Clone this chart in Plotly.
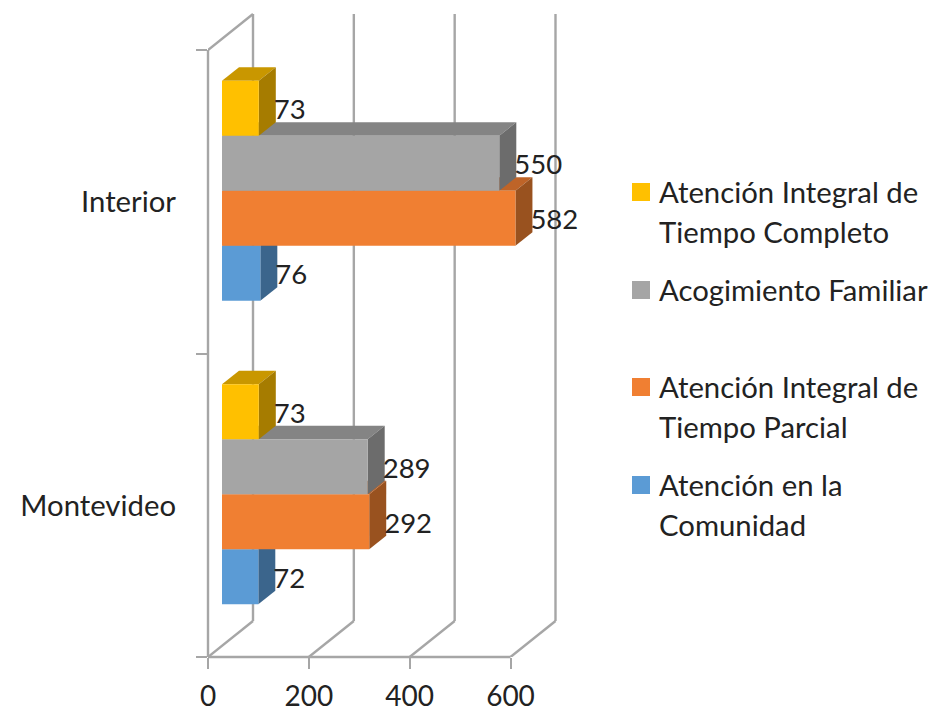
import plotly.graph_objects as go

categories = ["Montevideo", "Interior"]
x_ticks = [0, 200, 400, 600]
comunidad = [72, 76]
parcial = [292, 582]
familiar = [289, 550]
completo = [73, 73]

series = [
    ("Atención en la|Comunidad", comunidad, "#5B9BD5", "#497CAA", "#3B658C"),
    ("Atención Integral de|Tiempo Parcial", parcial, "#F07F32", "#BE6428", "#99521F"),
    ("Acogimiento Familiar", familiar, "#A5A5A5", "#848484", "#6C6C6C"),
    ("Atención Integral de|Tiempo Completo", completo, "#FFC000", "#C99700", "#A67C00"),
]
legend_rows_px = [485, 387, 290, 192]

FONT = "Lato, Carlito, Calibri, sans-serif"
DIGITS = 27.5
WORDS = 29.3
TICKS = 28
INK = "#222222"
AXIS = "#A6A6A6"
LINE = 2.4
PX_X = 302.5 / 600
PX_Y = 303.5
L, R, T, B = 208, 936 - 561, 10, 55
PW, PH = 936 - L - R, 712 - T - B
X_MAX = PW / PX_X
Y_MIN, Y_MAX = -0.5, -0.5 + PH / PX_Y
WALL_X, WALL_Y = 45 / PX_X, 36 / PX_Y
BASE = 14 / PX_X
BAR_H = 55 / PX_Y
LIFT = 11 / PX_Y
DX, DY = 17 / PX_X, 13.5 / PX_Y
LABEL_DX, LABEL_DY = 15 / PX_X, 4 / PX_Y


def poly(pts, color):
    path = "M " + " L ".join(f"{a},{b}" for a, b in pts) + " Z"
    return dict(type="path", path=path, xref="x", yref="y", fillcolor=color,
                line=dict(width=0), layer="below")


def seg(x0, y0, x1, y1, xref="x", yref="y"):
    return dict(type="line", x0=x0, y0=y0, x1=x1, y1=y1, xref=xref, yref=yref,
                line=dict(color=AXIS, width=LINE), layer="below")


def px_x(p):
    return (p - L) / PW


def px_y(p):
    return 1 - (p - T) / PH


shapes = []
annotations = []
for t in x_ticks:
    shapes.append(seg(t, Y_MIN, t + WALL_X, Y_MIN + WALL_Y))
    shapes.append(seg(t + WALL_X, Y_MIN + WALL_Y, t + WALL_X, 1.5 + WALL_Y))
shapes.append(seg(0, 1.5, WALL_X, 1.5 + WALL_Y))
shapes.append(seg(0, 0, x_ticks[-1], 0, yref="paper"))
shapes.append(seg(0, Y_MIN, 0, 1.5, xref="paper"))

fig = go.Figure()
for i, (name, vals, front, top, side) in enumerate(series):
    ys = [c + (i - 1.5) * BAR_H + LIFT for c in range(len(categories))]
    fig.add_trace(go.Bar(
        y=ys, x=vals, base=BASE, width=BAR_H, orientation="h", name=name.replace("|", " "),
        marker=dict(color=front, line=dict(width=0)), hoverinfo="x",
    ))
    for y, v in zip(ys, vals):
        x0, x1 = BASE, BASE + v
        y0, y1 = y - BAR_H / 2, y + BAR_H / 2
        shapes.append(poly([(x0, y1), (x0 + DX, y1 + DY), (x1 + DX, y1 + DY), (x1, y1)], top))
        shapes.append(poly([(x1, y0), (x1 + DX, y0 + DY), (x1 + DX, y1 + DY), (x1, y1)], side))
    fig.add_trace(go.Scatter(
        y=[y - LABEL_DY for y in ys], x=[BASE + v + LABEL_DX for v in vals], mode="text",
        text=[str(v) for v in vals], textposition="middle right",
        textfont=dict(family=FONT, size=DIGITS, color=INK),
        hoverinfo="skip", cliponaxis=False,
    ))
    row = legend_rows_px[i]
    shapes.append(dict(type="rect", xref="paper", yref="paper",
                       x0=px_x(632), x1=px_x(650), y0=px_y(row + 9), y1=px_y(row - 9),
                       fillcolor=front, line=dict(width=0)))
    for j, line in enumerate(name.split("|")):
        annotations.append(dict(
            text=line, xref="paper", yref="paper", x=px_x(658), y=px_y(row - 0.5 + j * 40),
            xanchor="left", yanchor="middle", showarrow=False, borderpad=0,
            font=dict(family=FONT, size=WORDS, color=INK),
        ))

fig.update_layout(
    width=936, height=712, margin=dict(l=L, r=R, t=T, b=B, autoexpand=False),
    paper_bgcolor="white", plot_bgcolor="rgba(0,0,0,0)", barmode="overlay", showlegend=False,
    shapes=shapes, annotations=annotations, font=dict(family=FONT, size=WORDS, color=INK),
    xaxis=dict(range=[0, X_MAX], tickvals=x_ticks, showgrid=False, zeroline=False,
               showline=False, ticks="outside", ticklen=11, tickwidth=2, tickcolor=AXIS,
               ticklabelstandoff=3, tickfont=dict(family=FONT, size=TICKS, color=INK)),
    yaxis=dict(range=[Y_MIN, Y_MAX], tickvals=[0, 1], ticktext=categories, showgrid=False,
               zeroline=False, showline=False, ticks="",
               minor=dict(tickvals=[-0.5, 0.5, 1.5], ticks="outside", ticklen=11, tickwidth=2,
                          tickcolor=AXIS, showgrid=False),
               ticklabelstandoff=31, tickfont=dict(family=FONT, size=WORDS, color=INK)),
)
fig.write_html("out.html", config=dict(displayModeBar=False),
               post_script="document.body.style.margin='0';")
